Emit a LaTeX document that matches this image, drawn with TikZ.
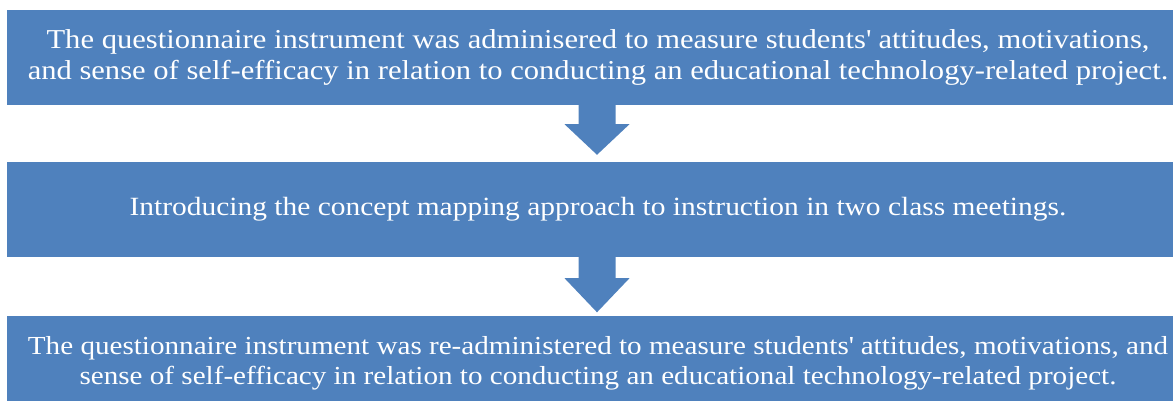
\documentclass[tikz,border=0pt]{standalone}
\usepackage{fontspec}
\setmainfont{Liberation Serif}[FakeStretch=1.12]
\usetikzlibrary{calc}
\definecolor{boxblue}{HTML}{4F81BD}
\newcommand{\q}{\textquotesingle}
\begin{document}
\begin{tikzpicture}[x=1pt,y=-1pt,
  stage/.style={fill=boxblue, text=white, minimum width=1182pt, minimum height=95pt,
    inner sep=0pt, align=center, font=\fontsize{26.3}{30.5}\selectfont},
  blockarrow/.style={fill=boxblue}]
\useasboundingbox (0,0) rectangle (1173,401);

% the three stages
\node[stage, font=\fontsize{27.3}{30.5}\selectfont] (s1) at (598,57.5) {The questionnaire instrument was adminisered to measure students\q{} attitudes, motivations,\\
and sense of self-efficacy in relation to conducting an educational technology-related project.};
\node[stage] (s2) at (598,209.5) {Introducing the concept mapping approach to instruction in two class meetings.};
\node[stage, font=\fontsize{26}{30}\selectfont] (s3) at (598,363) {The questionnaire instrument was re-administered to measure students\q{} attitudes, motivations, and\\
sense of self-efficacy in relation to conducting an educational technology-related project.};

% block arrows between stages
\coordinate (a1top) at ($(s1.south)+(-1,0)$);
\coordinate (a1tip) at ($(s2.north)+(-1,-7)$);
\path[blockarrow] ($(a1top)+(-18.5,-1)$) -- ($(a1top)+(-18.5,19)$) -- ($(a1top)+(-32.5,19)$)
  -- (a1tip) -- ($(a1top)+(32.5,19)$) -- ($(a1top)+(18.5,19)$) -- ($(a1top)+(18.5,-1)$) -- cycle;
\coordinate (a2top) at ($(s2.south)+(-1,0)$);
\coordinate (a2tip) at ($(s3.north)+(-1,-3)$);
\path[blockarrow] ($(a2top)+(-18.5,-1)$) -- ($(a2top)+(-18.5,21)$) -- ($(a2top)+(-32.5,21)$)
  -- (a2tip) -- ($(a2top)+(32.5,21)$) -- ($(a2top)+(18.5,21)$) -- ($(a2top)+(18.5,-1)$) -- cycle;
\end{tikzpicture}
\end{document}
